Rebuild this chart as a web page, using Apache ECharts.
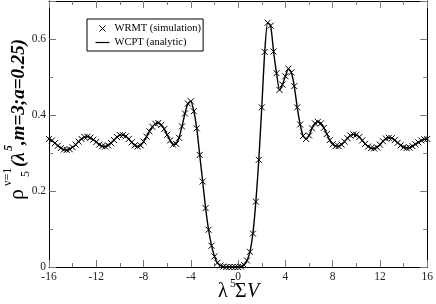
<!DOCTYPE html>
<html><head><meta charset="utf-8">
<script src="https://cdn.jsdelivr.net/npm/echarts@6/dist/echarts.min.js"></script>
<style>html,body{margin:0;padding:0;background:#fff}#c{width:436px;height:304px}</style>
</head><body><div id="c"></div>
<script>
const xValues = [-16,-15.75,-15.5,-15.25,-15,-14.75,-14.5,-14.25,-14,-13.75,-13.5,-13.25,-13,-12.75,-12.5,-12.25,-12,-11.75,-11.5,-11.25,-11,-10.75,-10.5,-10.25,-10,-9.75,-9.5,-9.25,-9,-8.75,-8.5,-8.25,-8,-7.75,-7.5,-7.25,-7,-6.75,-6.5,-6.25,-6,-5.75,-5.5,-5.25,-5,-4.75,-4.5,-4.25,-4,-3.75,-3.5,-3.25,-3,-2.75,-2.5,-2.25,-2,-1.75,-1.5,-1.25,-1,-0.75,-0.5,-0.25,0,0.25,0.5,0.75,1,1.25,1.5,1.75,2,2.25,2.5,2.75,3,3.25,3.5,3.75,4,4.25,4.5,4.75,5,5.25,5.5,5.75,6,6.25,6.5,6.75,7,7.25,7.5,7.75,8,8.25,8.5,8.75,9,9.25,9.5,9.75,10,10.25,10.5,10.75,11,11.25,11.5,11.75,12,12.25,12.5,12.75,13,13.25,13.5,13.75,14,14.25,14.5,14.75,15,15.25,15.5,15.75,16];
const rhoValues = [0.337,0.333,0.326,0.319,0.313,0.309,0.308,0.310,0.315,0.322,0.330,0.337,0.342,0.343,0.340,0.335,0.329,0.322,0.318,0.317,0.320,0.326,0.334,0.342,0.347,0.347,0.344,0.337,0.328,0.320,0.317,0.320,0.330,0.343,0.357,0.369,0.377,0.379,0.374,0.363,0.348,0.333,0.322,0.324,0.340,0.370,0.404,0.430,0.436,0.410,0.365,0.295,0.225,0.155,0.098,0.056,0.028,0.011,0.004,0.001,0,0,0,0,0,0.001,0.005,0.017,0.040,0.088,0.172,0.282,0.420,0.566,0.643,0.635,0.567,0.510,0.466,0.480,0.502,0.522,0.512,0.476,0.420,0.375,0.345,0.337,0.346,0.365,0.378,0.382,0.378,0.366,0.350,0.334,0.323,0.318,0.318,0.322,0.330,0.339,0.346,0.349,0.348,0.342,0.333,0.324,0.317,0.313,0.312,0.315,0.322,0.331,0.338,0.340,0.339,0.334,0.327,0.320,0.315,0.313,0.314,0.318,0.323,0.328,0.333,0.336,0.337];
const xTicks = {min:-16, max:16, interval:4};
const yTicks = {min:0, max:0.7, interval:0.2};
const seriesNames = ['WRMT (simulation)', 'WCPT (analytic)'];

const pts = xValues.map((x,i)=>[x, rhoValues[i]]);
const serif = 'Liberation Serif';
const crossPath = 'path://M0,0L10,10M10,0L0,10';

function axisBase(pos, isX, showLabel){
  const t = isX ? xTicks : yTicks;
  return {
    type:'value', position:pos, min:t.min, max:t.max, interval:t.interval,
    axisLine:{show:true, onZero:false, lineStyle:{color:'#000', width:1}},
    axisTick:{show:true, inside:true, length:7, lineStyle:{color:'#777'}},
    minorTick:{show:true, splitNumber:2, length:4, lineStyle:{color:'#777'}},
    splitLine:{show:false}, minorSplitLine:{show:false},
    axisLabel:{show:showLabel, showMaxLabel: isX, margin: isX?4:3, fontFamily:serif, fontSize:11.5, color:'#222',
      formatter: v => String(v)}
  };
}
function txt(x, y, text, size, opts){
  opts = opts || {};
  return {type:'text', x:x, y:y, style:{text:text, fontFamily:serif, fontSize:size,
    fontStyle:opts.italic?'italic':'normal', fontWeight:opts.bold?'bold':'normal',
    fill:'#000', verticalAlign:'middle', align:'left'}};
}

const chart = echarts.init(document.getElementById('c'), null, {renderer:'canvas'});
chart.setOption({
  animation:false,
  backgroundColor:'#fff',
  grid:{left:49, right:7, top:1, bottom:37, containLabel:false},
  xAxis:[axisBase('bottom', true, true), axisBase('top', true, false)],
  yAxis:[axisBase('left', false, true), axisBase('right', false, false)],
  legend:{
    orient:'vertical', left:87, top:19, padding:[3,2,3,6], itemGap:2,
    itemWidth:14, itemHeight:8, borderColor:'#000', borderWidth:1, borderRadius:0,
    textStyle:{fontFamily:serif, fontSize:10.5, color:'#000', padding:[0,0,0,0]},
    data:[
      {name:seriesNames[0], icon:'path://M0,0M14,8M4,1L10,7M10,1L4,7', itemStyle:{color:'none', borderColor:'#000', borderWidth:1}},
      {name:seriesNames[1], icon:'path://M0,0M14,8M0,3.4L14,3.4L14,4.6L0,4.6Z', itemStyle:{color:'#000', borderWidth:0}}
    ]
  },
  series:[
    {name:seriesNames[1], type:'line', data:pts, smooth:0.2, symbol:'none', xAxisIndex:0, yAxisIndex:0,
     lineStyle:{color:'#000', width:1.4}, itemStyle:{color:'#000'}, z:2},
    {name:seriesNames[0], type:'scatter', data:pts, symbol:crossPath, symbolSize:6, xAxisIndex:0, yAxisIndex:0,
     itemStyle:{color:'none', borderColor:'#000', borderWidth:1, opacity:1}, z:3}
  ],
  graphic:[
    {type:'group', x:0, y:200, rotation:Math.PI/2, children:[
      txt(0, 17, 'ρ', 22),
      txt(14, 8, 'ν=1', 12),
      txt(23, 26, '5', 12),
      txt(33, 19, '(λ', 19, {italic:true, bold:true}),
      txt(49, 9, '5', 12, {italic:true, bold:true}),
      txt(55, 19, ',m=3;a=0.25)', 19, {italic:true, bold:true})
    ]},
    txt(218, 292, 'λ', 20),
    txt(230, 284, '5', 12),
    txt(235, 292, 'Σ', 20),
    txt(247, 292, 'V', 20, {italic:true})
  ]
});
</script>
</body></html>
